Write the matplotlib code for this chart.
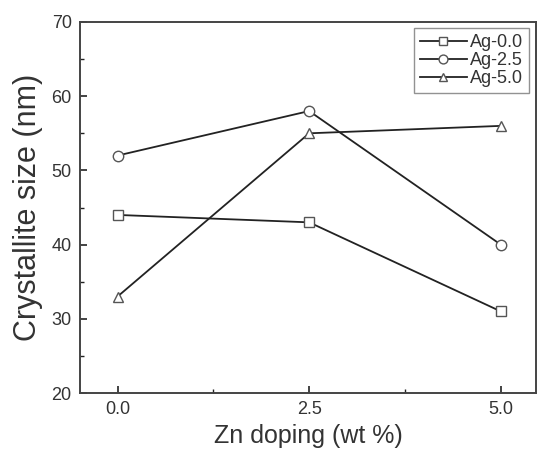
import matplotlib
matplotlib.use('Agg')
import matplotlib.pyplot as plt
from matplotlib.ticker import MultipleLocator

plt.rcParams['font.family'] = ['Liberation Sans', 'DejaVu Sans']

# data
zn_doping = [0.0, 2.5, 5.0]
ag_00 = [44, 43, 31]
ag_25 = [52, 58, 40]
ag_50 = [33, 55, 56]
labels = ['Ag-0.0', 'Ag-2.5', 'Ag-5.0']

line_col = '#222222'
edge_col = '#555555'
text_col = '#333333'

fig = plt.figure(figsize=(5.39, 4.53), dpi=100)
ax = fig.add_axes([80 / 539, 1 - 393 / 453, 456 / 539, 371 / 453])

for ys, mk, lab in zip([ag_00, ag_25, ag_50], ['s', 'o', '^'], labels):
    ax.plot(zn_doping, ys, color=line_col, lw=1.3, marker=mk, markersize=7.5,
            markerfacecolor='white', markeredgecolor=edge_col, markeredgewidth=1.0,
            label=lab)

ax.set_xlim(-0.49, 5.46)
ax.set_ylim(20, 70)
ax.xaxis.set_major_locator(MultipleLocator(2.5))
ax.xaxis.set_minor_locator(MultipleLocator(1.25))
ax.yaxis.set_major_locator(MultipleLocator(10))
ax.yaxis.set_minor_locator(MultipleLocator(5))
ax.xaxis.set_major_formatter(matplotlib.ticker.FormatStrFormatter('%.1f'))

ax.tick_params(which='both', direction='in', colors=line_col, labelcolor=text_col,
               labelsize=13, top=False, right=False)
ax.tick_params(which='major', length=5, width=1.2, pad=6)
ax.tick_params(which='minor', length=3, width=1.0)
for sp in ax.spines.values():
    sp.set_linewidth(1.4)
    sp.set_color('#444444')

ax.set_xlabel('Zn doping (wt %)', fontsize=18, color=text_col, labelpad=4)
ax.set_ylabel('Crystallite size (nm)', fontsize=22, color=text_col, labelpad=6)

leg = ax.legend(loc='upper right', bbox_to_anchor=(1 - 7 / 456, 1 - 6 / 371),
                borderaxespad=0, fontsize=13,
                frameon=True, fancybox=False, edgecolor='#777777',
                handlelength=2.6, handletextpad=0.15, labelspacing=0.05,
                borderpad=0.35, markerscale=0.85)
leg.get_frame().set_linewidth(1.0)
for t in leg.get_texts():
    t.set_color(text_col)

fig.savefig('out.png', dpi=100)
